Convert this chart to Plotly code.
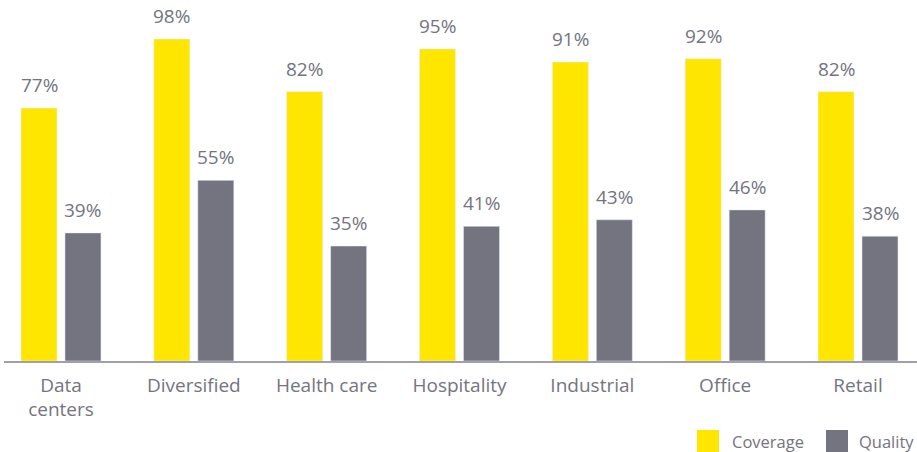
import plotly.graph_objects as go

categories = ["Data<br>centers", "Diversified", "Health care", "Hospitality", "Industrial", "Office", "Retail"]
series_names = ["Coverage", "Quality"]
coverage = [77, 98, 82, 95, 91, 92, 82]
quality = [39, 55, 35, 41, 43, 46, 38]

YELLOW = "#FFE600"
GRAY = "#747480"
TEXT = "#747480"
FONT = "Open Sans"

fig = go.Figure()
fig.add_trace(go.Bar(x=categories, y=coverage, name=series_names[0], marker_color=YELLOW,
                     width=0.271, offset=-0.301, showlegend=False))
fig.add_trace(go.Bar(x=categories, y=quality, name=series_names[1], marker_color=GRAY,
                     width=0.271, offset=0.030, showlegend=False))

ann = []
for i, (c, q) in enumerate(zip(coverage, quality)):
    ann.append(dict(x=i - 0.1655, y=c, text=f"{c}%", showarrow=False, xref="x", yref="y",
                    yanchor="bottom", yshift=8, font=dict(size=19, color=TEXT, family=FONT)))
    ann.append(dict(x=i + 0.1655, y=q, text=f"{q}%", showarrow=False, xref="x", yref="y",
                    yanchor="bottom", yshift=8, font=dict(size=19, color=TEXT, family=FONT)))

# custom legend (paper coordinates)
def px(x):
    return (x - 4) / 913.0

def py(y):
    return (361 - y) / 361.0

shapes = []
legend_items = [(series_names[0], YELLOW, 697, 730), (series_names[1], GRAY, 826, 857)]
for name, col, sx, tx in legend_items:
    shapes.append(dict(type="rect", xref="paper", yref="paper", x0=px(sx), x1=px(sx + 22),
                       y0=py(452), y1=py(430), fillcolor=col, line=dict(width=0)))
    ann.append(dict(x=px(tx), y=py(441), xref="paper", yref="paper", text=name, showarrow=False,
                    xanchor="left", yanchor="middle", font=dict(size=16.5, color=TEXT, family=FONT)))

fig.update_layout(
    width=917, height=452,
    margin=dict(l=4, r=0, t=0, b=91, autoexpand=False),
    plot_bgcolor="white", paper_bgcolor="white",
    barmode="overlay",
    annotations=ann,
    shapes=shapes,
    font=dict(family=FONT, color=TEXT, size=19),
    showlegend=False,
    xaxis=dict(range=[-0.429, 6.444], showgrid=False, showline=True, linecolor="#a0a0a8",
               linewidth=1.5, ticks="", tickfont=dict(size=19, color=TEXT, family=FONT),
               ticklabelstandoff=6, automargin=False),
    yaxis=dict(range=[0, 109.9], visible=False, showgrid=False, zeroline=False, automargin=False),
)

fig.write_html("out.html")
